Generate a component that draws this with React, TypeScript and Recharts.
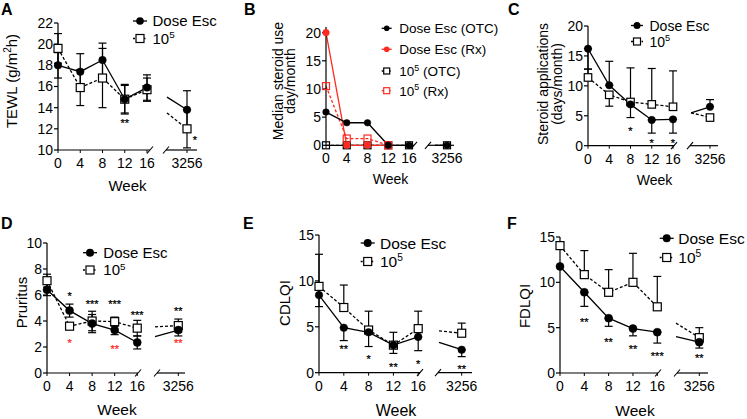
import React from 'react';
import { LineChart, Line, XAxis, YAxis, ErrorBar, ReferenceLine, ReferenceDot } from 'recharts';

const FONT = '"Liberation Sans", Arial, Helvetica, sans-serif';
const BLACK = '#000000';
const RED = '#ff2a1f';

// ---------- shared axis data ----------
const WEEK_TICKS = [0, 4, 8, 12, 16];
const X_TICK_LABELS = ['0', '4', '8', '12', '16', '3256'];

// ---------- Panel A : TEWL ----------
const A_Y_TICKS = [10, 12, 14, 16, 18, 20, 22];
const A_DOSE = [18.0, 17.4, 18.5, 14.8, 15.9, 13.8];
const A_DOSE_ERR = [[1.2, 1.2], [1.7, 1.7], [1.6, 1.6], [1.4, 1.4], [1.2, 1.2], [1.8, 1.8]];
const A_TEN = [19.6, 15.9, 16.8, 14.8, 15.7, 12.0];
const A_TEN_ERR = [[1.4, 1.4], [1.7, 1.7], [2.8, 2.8], [1.3, 1.3], [1.1, 1.1], [1.8, 1.8]];
const A_LEAD = [15.0, 13.5]; // [dose, 10^5] at start of broken segment
const A_STARS = [
  { i: 3, v: 12.8, t: '**', red: false, right: false },
  { i: 5, v: 11.2, t: '*', red: false, right: true },
];

// ---------- Panel B : median steroid use ----------
const B_Y_TICKS = [0, 5, 10, 15, 20];
const B_DOSE_OTC = [5.9, 4.0, 4.0, 0, 0, 0];
const B_DOSE_RX = [20, 0, 0, 0, null, null];
const B_TEN_OTC = [0, 0, 0, 0, 0, 0];
const B_TEN_RX = [10.5, 1.2, 1.2, 0, null, null];
const B_LEAD = [0, null, 0, null]; // dose otc, dose rx, ten otc, ten rx

// ---------- Panel C : steroid applications ----------
const C_Y_TICKS = [0, 5, 10, 15, 20];
const C_DOSE = [16.2, 10.1, 6.9, 4.3, 4.4, 6.5];
const C_DOSE_ERR = [[3.4, 0], [0, 4.0], [2.2, 0], [2.2, 0], [2.3, 0], [0, 1.2]];
const C_TEN = [11.4, 8.5, 7.3, 6.9, 6.5, 4.7];
const C_TEN_ERR = [[0, 1.4], [1.9, 0], [0, 5.7], [0, 6.0], [0, 6.0], [0.3, 0]];
const C_LEAD = [5.5, 5.5];
const C_STARS = [
  { i: 2, v: 2.8, t: '*', red: false, right: false },
  { i: 3, v: 0.8, t: '*', red: false, right: false },
  { i: 4, v: 0.8, t: '*', red: false, right: false },
];

// ---------- Panel D : pruritus ----------
const D_Y_TICKS = [0, 2, 4, 6, 8, 10];
const D_DOSE = [6.4, 4.8, 3.8, 3.3, 2.35, 3.3];
const D_DOSE_ERR = [[0.45, 0.45], [0.5, 0.5], [0.7, 0.7], [0.35, 0.35], [0.5, 0.5], [0.45, 0.45]];
const D_TEN = [7.1, 3.6, 4.0, 3.95, 3.45, 3.65];
const D_TEN_ERR = [[0.5, 0.5], [0.2, 0.2], [0.75, 0.75], [0.35, 0.35], [0.6, 0.6], [0.5, 0.5]];
const D_LEAD = [2.8, 3.55];
const D_STARS = [
  { i: 1, v: 6.1, t: '*', red: false, right: false },
  { i: 2, v: 5.5, t: '***', red: false, right: false },
  { i: 3, v: 5.5, t: '***', red: false, right: false },
  { i: 4, v: 4.66, t: '***', red: false, right: false },
  { i: 5, v: 4.95, t: '**', red: false, right: false },
  { i: 1, v: 2.48, t: '*', red: true, right: false },
  { i: 3, v: 2.05, t: '**', red: true, right: false },
  { i: 5, v: 2.5, t: '**', red: true, right: false },
];

// ---------- Panel E : CDLQI ----------
const E_Y_TICKS = [0, 5, 10, 15];
const E_DOSE = [8.45, 4.9, 4.4, 3.0, 3.9, 2.5];
const E_DOSE_ERR = [[1.25, 1.25], [1.4, 0], [1.55, 0], [0.9, 0], [1.5, 0], [0.75, 0]];
const E_TEN = [9.4, 7.1, 4.65, 3.0, 4.8, 4.3];
const E_TEN_ERR = [[0, 3.5], [0, 2.45], [0, 2.05], [0, 1.4], [0, 1.9], [0, 1.1]];
const E_LEAD = [3.3, 4.55];
const E_STARS = [
  { i: 1, v: 2.83, t: '**', red: false, right: false },
  { i: 2, v: 1.74, t: '*', red: false, right: false },
  { i: 3, v: 0.84, t: '**', red: false, right: false },
  { i: 4, v: 1.2, t: '*', red: false, right: false },
  { i: 5, v: 0.65, t: '**', red: false, right: false },
];

// ---------- Panel F : FDLQI ----------
const F_Y_TICKS = [0, 5, 10, 15];
const F_DOSE = [11.75, 8.9, 6.05, 4.9, 4.5, 3.4];
const F_DOSE_ERR = [[0, 0], [1.55, 0], [0.9, 0], [0.8, 0], [1.2, 0], [0.65, 0]];
const F_TEN = [14.05, 10.85, 8.9, 10.0, 7.3, 3.9];
const F_TEN_ERR = [[0, 0], [0, 2.65], [0, 2.5], [0, 3.2], [0, 3.35], [0, 1.1]];
const F_LEAD = [4.0, 5.5];
const F_STARS = [
  { i: 1, v: 5.88, t: '**', red: false, right: false },
  { i: 2, v: 3.67, t: '**', red: false, right: false },
  { i: 3, v: 2.93, t: '**', red: false, right: false },
  { i: 4, v: 2.1, t: '***', red: false, right: false },
  { i: 5, v: 1.94, t: '**', red: false, right: false },
];

// ---------- layout (page pixels) ----------
const LAYOUT_A = { x0: 58, ppw: 5.5625, yTop: 23, yBot: 150, last: 187, lead: 167, b1: 150, b2: 166, end: 197, r: 3.8, sq: 8 };
const LAYOUT_B = { x0: 326, ppw: 5.1875, yTop: 26.7, yBot: 145, last: 447, lead: 435, b1: 414, b2: 428, end: 454, r: 3.3, sq: 7 };
const LAYOUT_C = { x0: 588, ppw: 5.3125, yTop: 26, yBot: 145.7, last: 710, lead: 691, b1: 674, b2: 690, end: 718, r: 3.7, sq: 7.5 };
const LAYOUT_D = { x0: 47, ppw: 5.64, yTop: 243.3, yBot: 373.3, last: 178.3, lead: 155, b1: 138, b2: 157, end: 185, r: 4, sq: 8 };
const LAYOUT_E = { x0: 319, ppw: 6.2, yTop: 235, yBot: 372.7, last: 461.7, lead: 439, b1: 420, b2: 438, end: 472, r: 3.8, sq: 8 };
const LAYOUT_F = { x0: 560, ppw: 6.08, yTop: 237.3, yBot: 373.3, last: 699.3, lead: 676, b1: 658, b2: 677, end: 708, r: 4, sq: 8 };

type S = {
  key: string;
  values: (number | null)[];
  err?: number[][];
  lead: number | null;
  color: string;
  dashed: boolean;
  marker: 'circle' | 'square';
  fillNone?: boolean;
};

const twoSeries = (dose: number[], doseErr: number[][], ten: number[], tenErr: number[][], lead: number[]): S[] => [
  { key: 'ten', values: ten, err: tenErr, lead: lead[1], color: BLACK, dashed: true, marker: 'square' },
  { key: 'dose', values: dose, err: doseErr, lead: lead[0], color: BLACK, dashed: false, marker: 'circle' },
];

const PANELS = [
  { id: 'A', yDomain: [10, 22], yTicks: A_Y_TICKS, L: LAYOUT_A, series: twoSeries(A_DOSE, A_DOSE_ERR, A_TEN, A_TEN_ERR, A_LEAD), stars: A_STARS },
  {
    id: 'B', yDomain: [0, 21], yTicks: B_Y_TICKS, L: LAYOUT_B, stars: [],
    series: [
      { key: 'tenOtc', values: B_TEN_OTC, lead: B_LEAD[2], color: BLACK, dashed: true, marker: 'square', fillNone: true },
      { key: 'tenRx', values: B_TEN_RX, lead: B_LEAD[3], color: RED, dashed: true, marker: 'square', fillNone: true },
      { key: 'doseRx', values: B_DOSE_RX, lead: B_LEAD[1], color: RED, dashed: false, marker: 'circle' },
      { key: 'doseOtc', values: B_DOSE_OTC, lead: B_LEAD[0], color: BLACK, dashed: false, marker: 'circle' },
    ] as S[],
  },
  { id: 'C', yDomain: [0, 20], yTicks: C_Y_TICKS, L: LAYOUT_C, series: twoSeries(C_DOSE, C_DOSE_ERR, C_TEN, C_TEN_ERR, C_LEAD), stars: C_STARS },
  { id: 'D', yDomain: [0, 10], yTicks: D_Y_TICKS, L: LAYOUT_D, series: twoSeries(D_DOSE, D_DOSE_ERR, D_TEN, D_TEN_ERR, D_LEAD), stars: D_STARS },
  { id: 'E', yDomain: [0, 15], yTicks: E_Y_TICKS, L: LAYOUT_E, series: twoSeries(E_DOSE, E_DOSE_ERR, E_TEN, E_TEN_ERR, E_LEAD), stars: E_STARS },
  { id: 'F', yDomain: [0, 15], yTicks: F_Y_TICKS, L: LAYOUT_F, series: twoSeries(F_DOSE, F_DOSE_ERR, F_TEN, F_TEN_ERR, F_LEAD), stars: F_STARS },
];

const YW = 40;
const MT = 10;
const MR = 16;
const XH = 32;
const STAR_FS = 11;

function makeDot(s: S, r: number, sq: number) {
  return (props: any) => {
    const { cx, cy, payload, index } = props;
    const k = `${s.key}-d-${index}`;
    if (cx == null || cy == null || payload?.isLead || payload?.isGap || payload?.[s.key] == null) return <g key={k} />;
    if (s.marker === 'circle') return <circle key={k} cx={cx} cy={cy} r={r} fill={s.color} stroke={s.color} strokeWidth={0.5} />;
    return (
      <rect key={k} x={cx - sq / 2} y={cy - sq / 2} width={sq} height={sq}
        fill={s.fillNone ? 'none' : '#ffffff'} stroke={s.color} strokeWidth={1.2} />
    );
  };
}

function Panel({ cfg }: { cfg: any }) {
  const L = cfg.L;
  const toU = (px: number) => (px - L.x0) / L.ppw;
  const [ymin, ymax] = cfg.yDomain;
  const plotW = L.end - L.x0;
  const plotH = L.yBot - L.yTop;
  const ypp = (ymax - ymin) / plotH;
  const xpp = 1 / L.ppw;
  const lastU = toU(L.last);
  const leadU = toU(L.lead);
  const endU = toU(L.end);
  const b1U = toU(L.b1);
  const b2U = toU(L.b2);
  const series: S[] = cfg.series;

  const rows: any[] = [];
  WEEK_TICKS.forEach((w, i) => {
    const r: any = { u: w };
    series.forEach((s) => {
      r[s.key] = s.values[i];
      if (s.err) r[s.key + '_e'] = s.err[i];
    });
    rows.push(r);
  });
  const gap: any = { u: (16 + leadU) / 2, isGap: true };
  series.forEach((s) => (gap[s.key] = null));
  rows.push(gap);
  const lead: any = { u: leadU, isLead: true };
  series.forEach((s) => (lead[s.key] = s.lead));
  rows.push(lead);
  const last: any = { u: lastU };
  series.forEach((s) => {
    last[s.key] = s.values[5];
    if (s.err) last[s.key + '_e'] = s.err[5];
  });
  rows.push(last);

  const positions = [...WEEK_TICKS, lastU];
  const width = YW + plotW + MR;
  const height = MT + plotH + XH;
  const axisStroke = { stroke: BLACK, strokeWidth: 1.2 };
  const slash = (u: number) => [
    { x: u - 3 * xpp, y: ymin - 3.5 * ypp },
    { x: u + 3 * xpp, y: ymin + 3.5 * ypp },
  ];

  return (
    <div style={{ position: 'absolute', left: L.x0 - YW, top: L.yTop - MT, width, height }}>
      <LineChart width={width} height={height} data={rows} margin={{ top: MT, right: MR, bottom: 0, left: 0 }}>
        <XAxis
          type="number"
          dataKey="u"
          domain={[0, endU]}
          ticks={positions}
          interval={0}
          tickFormatter={(_v: any, idx: number) => X_TICK_LABELS[idx]}
          axisLine={false}
          tickLine={{ stroke: BLACK, strokeWidth: 1 }}
          tickSize={3}
          tickMargin={5}
          height={XH}
          tick={{ fill: BLACK, fontSize: 14, fontFamily: FONT }}
        />
        <YAxis
          type="number"
          domain={[ymin, ymax]}
          ticks={cfg.yTicks}
          interval={0}
          width={YW}
          axisLine={axisStroke}
          tickLine={{ stroke: BLACK, strokeWidth: 1.2 }}
          tickSize={4}
          tickMargin={1}
          tick={{ fill: BLACK, fontSize: 14, fontFamily: FONT }}
        />
        <ReferenceLine segment={[{ x: 0, y: ymin }, { x: b1U, y: ymin }]} stroke={BLACK} strokeWidth={1.2} ifOverflow="visible" />
        <ReferenceLine segment={[{ x: b2U, y: ymin }, { x: endU, y: ymin }]} stroke={BLACK} strokeWidth={1.2} ifOverflow="visible" />
        <ReferenceLine segment={slash(b1U)} stroke={BLACK} strokeWidth={1.1} ifOverflow="visible" />
        <ReferenceLine segment={slash(b2U)} stroke={BLACK} strokeWidth={1.1} ifOverflow="visible" />
        {series.map((s) => (
          <Line
            key={s.key}
            type="linear"
            dataKey={s.key}
            stroke={s.color}
            strokeWidth={1.3}
            strokeDasharray={s.dashed ? '3 2' : undefined}
            connectNulls={false}
            dot={makeDot(s, L.r, L.sq)}
            activeDot={false}
            isAnimationActive={false}
          >
            {s.err ? <ErrorBar dataKey={s.key + '_e'} direction="y" width={4} stroke={BLACK} strokeWidth={1.2} /> : null}
          </Line>
        ))}
        {cfg.stars.map((st: any, j: number) => (
          <ReferenceDot
            key={'st' + j}
            x={positions[st.i]}
            y={st.v}
            r={0}
            ifOverflow="visible"
            shape={(p: any) => (
              <text
                x={p.cx + (st.right ? 8 : 0)}
                y={p.cy + 0.58 * STAR_FS}
                textAnchor="middle"
                fontSize={STAR_FS}
                fontFamily={FONT}
                fill={st.red ? RED : BLACK}
                stroke={st.red ? RED : BLACK}
                strokeWidth={0.25}
              >
                {st.t}
              </text>
            )}
          />
        ))}
      </LineChart>
    </div>
  );
}

// ---------- overlay text: panel letters, axis titles, legends ----------
function Sup({ base, sup, rest, fs }: { base: string; sup: string; rest?: string; fs: number }) {
  return (
    <>
      {base}
      <tspan dy={-fs * 0.38} fontSize={fs * 0.66}>{sup}</tspan>
      {rest ? <tspan dy={fs * 0.38} fontSize={fs}>{rest}</tspan> : null}
    </>
  );
}

type LegRow = { y: number; color: string; dashed: boolean; marker: 'circle' | 'square'; label: React.ReactNode };

function Legend({ x, tx, half, r, sq, fs, rows }: { x: number; tx: number; half: number; r: number; sq: number; fs: number; rows: LegRow[] }) {
  return (
    <g>
      {rows.map((row, i) => (
        <g key={i}>
          <line x1={x - half} x2={x + half} y1={row.y} y2={row.y} stroke={row.color} strokeWidth={1.3}
            strokeDasharray={row.dashed ? '2 1.5' : undefined} />
          {row.marker === 'circle' ? (
            <circle cx={x} cy={row.y} r={r} fill={row.color} />
          ) : (
            <rect x={x - sq / 2} y={row.y - sq / 2} width={sq} height={sq} fill="#fff" stroke={row.color} strokeWidth={1.2} />
          )}
          <text x={tx} y={row.y + fs * 0.36} fontSize={fs} fill={BLACK}>{row.label}</text>
        </g>
      ))}
    </g>
  );
}

const DOSE_LABEL = 'Dose Esc';

function twoRows(y1: number, y2: number, fs: number): LegRow[] {
  return [
    { y: y1, color: BLACK, dashed: false, marker: 'circle', label: DOSE_LABEL },
    { y: y2, color: BLACK, dashed: true, marker: 'square', label: <Sup base="10" sup="5" fs={fs} /> },
  ];
}

function YTitle({ x, y, fs, children }: { x: number; y: number; fs: number; children: React.ReactNode }) {
  return (
    <text transform={`translate(${x},${y}) rotate(-90)`} textAnchor="middle" fontSize={fs} fill={BLACK}>
      {children}
    </text>
  );
}

function Overlay() {
  const letter = (t: string, x: number, y: number) => (
    <text x={x} y={y} fontSize={16} fontWeight="bold" fill={BLACK}>{t}</text>
  );
  const week = (cx: number, cy: number, fs: number) => (
    <text x={cx} y={cy + fs * 0.36} fontSize={fs} textAnchor="middle" fill={BLACK}>Week</text>
  );
  return (
    <svg width={747} height={419} style={{ position: 'absolute', left: 0, top: 0, pointerEvents: 'none', fontFamily: FONT }}>
      {letter('A', 1, 15)}
      {letter('B', 244, 15)}
      {letter('C', 508, 15)}
      {letter('D', 1, 228.5)}
      {letter('E', 243, 228.5)}
      {letter('F', 507, 228.5)}

      <YTitle x={17} y={81} fs={15}>TEWL (g/m<tspan dy={-6} fontSize={10}>2</tspan><tspan dy={6}>h)</tspan></YTitle>
      <YTitle x={283} y={81} fs={14}>Median steroid use</YTitle>
      <YTitle x={295} y={81} fs={14}>day/month</YTitle>
      <YTitle x={548} y={84} fs={14}>Steroid applications</YTitle>
      <YTitle x={562} y={84} fs={14}>(days/month)</YTitle>
      <YTitle x={26.5} y={302.5} fs={15}>Pruritus</YTitle>
      <YTitle x={289.5} y={303} fs={15}>CDLQI</YTitle>
      <YTitle x={529.5} y={306} fs={15}>FDLQI</YTitle>

      {week(127.5, 186, 15)}
      {week(390.5, 179, 14)}
      {week(654.5, 180, 14)}
      {week(117, 409, 15.5)}
      {week(396, 410, 16)}
      {week(635, 410, 15.5)}

      <Legend x={140} tx={152.5} half={7} r={3.8} sq={8} fs={15} rows={twoRows(21, 38.5, 15)} />
      <Legend
        x={386.7} tx={399.3} half={5} r={2.8} sq={6} fs={13.5}
        rows={[
          { y: 28.3, color: BLACK, dashed: false, marker: 'circle', label: 'Dose Esc (OTC)' },
          { y: 49.3, color: RED, dashed: false, marker: 'circle', label: 'Dose Esc (Rx)' },
          { y: 71, color: BLACK, dashed: true, marker: 'square', label: <Sup base="10" sup="5" rest={'\u00A0(OTC)'} fs={13.5} /> },
          { y: 90.7, color: RED, dashed: true, marker: 'square', label: <Sup base="10" sup="5" rest={'\u00A0(Rx)'} fs={13.5} /> },
        ]}
      />
      <Legend x={637} tx={649.5} half={6} r={3.5} sq={7} fs={14} rows={twoRows(25.5, 41.5, 14)} />
      <Legend x={90} tx={103.3} half={7} r={4} sq={8} fs={15} rows={twoRows(252.7, 270, 15)} />
      <Legend x={367.7} tx={380} half={7} r={4} sq={8} fs={15.5} rows={twoRows(243, 261.5, 15.5)} />
      <Legend x={666.7} tx={678.3} half={7} r={4} sq={8} fs={15.5} rows={twoRows(238.3, 257.5, 15.5)} />
    </svg>
  );
}

export default function App() {
  return (
    <div style={{ position: 'absolute', left: 0, top: 0, width: 747, height: 419, background: '#ffffff', fontFamily: FONT, overflow: 'hidden' }}>
      {PANELS.map((p) => (
        <Panel key={p.id} cfg={p} />
      ))}
      <Overlay />
    </div>
  );
}
